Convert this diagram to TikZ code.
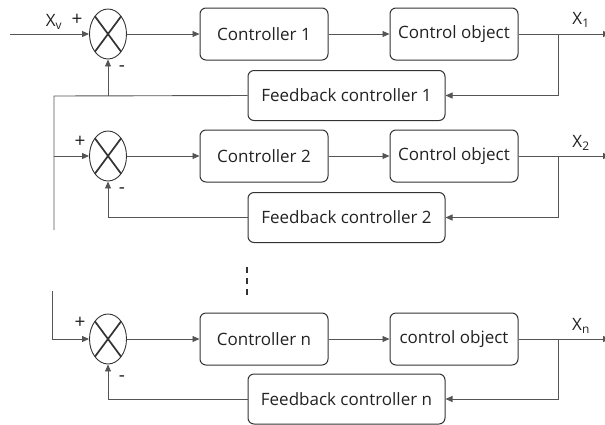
\documentclass[tikz,border=0pt]{standalone}
\usepackage{fontspec}
\setmainfont{Open Sans}
\usetikzlibrary{shapes.geometric,arrows.meta,calc}
\definecolor{boxc}{HTML}{333333}
\definecolor{linec}{HTML}{555555}
\definecolor{txt}{HTML}{222222}
\begin{document}
\begin{tikzpicture}[x=1pt,y=-1pt,
  box/.style={draw=boxc, line width=1pt, rounded corners=6pt, inner sep=0pt, text=txt,
    font=\fontsize{17}{20}\selectfont},
  ctl/.style={box, minimum width=128pt, minimum height=52pt},
  fbk/.style={box, minimum width=197pt, minimum height=50pt},
  sumnode/.style={ellipse, draw=boxc, line width=0.9pt, minimum width=37pt, minimum height=50pt,
    inner sep=0pt, path picture={\draw[line width=1.7pt,boxc]
      (path picture bounding box.north west) -- (path picture bounding box.south east)
      (path picture bounding box.north east) -- (path picture bounding box.south west);}},
  ln/.style={draw=linec, line width=0.9pt},
  arr/.style={ln, -{Triangle[length=7pt,width=6pt]}},
  lab/.style={text=txt, inner sep=0pt, font=\fontsize{17}{20}\selectfont},
  sgn/.style={text=txt, inner sep=0pt, font=\fontsize{19}{22}\selectfont}
]
\useasboundingbox (0,0) rectangle (605,424);

% row 1
\node[sumnode] (s1) at (108,34) {};
\node[ctl] (c1) at (264,34) {Controller 1};
\node[ctl] (o1) at (454,34) {Control object};
\node[fbk] (f1) at (346.5,95.5) {Feedback controller 1};
% row 2
\node[sumnode] (s2) at (108,156) {};
\node[ctl] (c2) at (264,156) {Controller 2};
\node[ctl] (o2) at (454,156) {Control object};
\node[fbk] (f2) at (346.5,217.5) {Feedback controller 2};
% row n
\node[sumnode] (sn) at (108,339) {};
\node[ctl] (cn) at (264,339) {Controller n};
\node[ctl] (on) at (454,339) {control object};
\node[fbk] (fn) at (346.5,399) {Feedback controller n};

% labels
\node[lab] (xv) at (54,22) {X\textsubscript{v}};
\node[lab] (x1) at (581,20) {X\textsubscript{1}};
\node[lab] (x2) at (581,143) {X\textsubscript{2}};
\node[lab] (xn) at (581,326) {X\textsubscript{n}};
\node[sgn] (p1) at (77,20) {+};
\node[sgn] (m1) at (122,69) {-};
\node[sgn] (p2) at (80,142) {+};
\node[sgn] (m2) at (122,191) {-};
\node[sgn] (pn) at (80,323) {+};
\node[sgn] (mn) at (122,379) {-};

% coordinates
\coordinate (in) at (10,34);
\coordinate (y1) at (610,34);
\coordinate (y2) at (610,156);
\coordinate (yn) at (610,339);
\coordinate (b1) at (558,34);
\coordinate (b2) at (558,156);
\coordinate (bn) at (558,339);
\coordinate (l1) at (54,96);
\coordinate (j2) at (54,156);
\coordinate (lbot) at (54,230);
\coordinate (ltop) at (52,291);

% row 1 connectors
\draw[arr] (in) -- (s1.west);
\draw[arr] (s1.east) -- (c1.west);
\draw[arr] (c1.east) -- (o1.west);
\draw[arr] (o1.east) -- (y1);
\draw[arr] (b1) |- (f1.east);
\draw[ln] (f1.west) -- (l1) -- (lbot);
\draw[arr] (s1.south |- f1.west) -- (s1.south);
% row 2
\draw[arr] (j2) -- (s2.west);
\draw[arr] (s2.east) -- (c2.west);
\draw[arr] (c2.east) -- (o2.west);
\draw[arr] (o2.east) -- (y2);
\draw[arr] (b2) |- (f2.east);
\draw[arr] (f2.west) -| (s2.south);
% row n
\draw[arr] (ltop) |- (sn.west);
\draw[arr] (sn.east) -- (cn.west);
\draw[arr] (cn.east) -- (on.west);
\draw[arr] (on.east) -- (yn);
\draw[arr] (bn) |- (fn.east);
\draw[arr] (fn.west) -| (sn.south);

% vertical ellipsis
\draw[boxc, line width=2.6pt, dash pattern=on 6pt off 5pt] (247,267) -- (247,299);
\end{tikzpicture}
\end{document}
